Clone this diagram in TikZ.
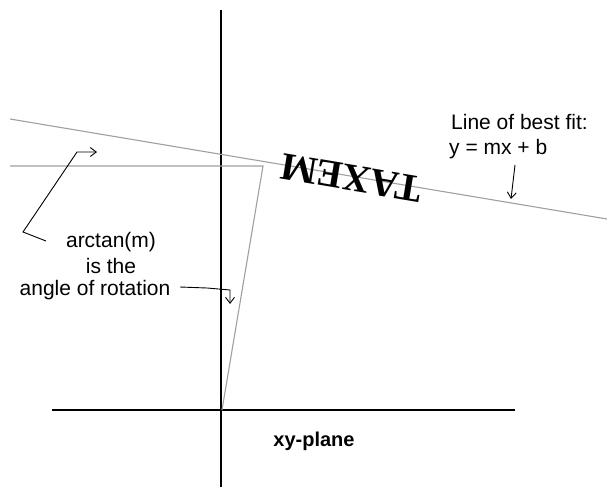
\documentclass[tikz,border=0pt]{standalone}
\usepackage{fontspec}
\setmainfont{Liberation Sans}
\newfontfamily\serifbold{Liberation Serif}
\usetikzlibrary{arrows.meta}
\definecolor{linegray}{RGB}{160,160,160}
\tikzset{
  axis/.style={line width=2.2pt, black},
  guide/.style={line width=1.1pt, linegray},
  pointer/.style={line width=0.9pt, black, -{Straight Barb[length=6pt,width=9pt]}},
  label/.style={font=\fontsize{21}{24}\selectfont, inner sep=0pt, align=center},
}
\begin{document}
\begin{tikzpicture}[x=1pt,y=-1pt]
\useasboundingbox (0,0) rectangle (607,487);
% axes
\coordinate (ytop) at (221,10);
\coordinate (ybot) at (221,487);
\coordinate (xleft) at (52,410);
\coordinate (xright) at (515,410);
\draw[axis] (ytop) -- (ybot);
\draw[axis] (xleft) -- (xright);
% gray lines
\coordinate (fitL) at (10,119);
\coordinate (fitR) at (607,219);
\coordinate (horL) at (10,166);
\coordinate (corner) at (263,166);
\coordinate (origin) at (222,410);
\draw[guide] (fitL) -- (fitR);
\draw[guide] (horL) -- (corner) -- (origin);
% rotated word
\node[inner sep=0pt, rotate=170.5, font=\serifbold\bfseries\fontsize{39}{41}\selectfont] (word) at (351,178) {TAXEM};
% labels
\node[label] (arctan) at (111,242) {arctan(m)};
\node[label] (isthe) at (111,266) {is the};
\node[label] (angle) at (95,290) {angle of rotation};
\node[label, anchor=west] (fit1) at (451,122) {Line of best fit:};
\node[label, anchor=west] (fit2) at (449,149) {y = mx + b};
\node[label, font=\bfseries\fontsize{20}{23}\selectfont] (plane) at (314,441) {xy-plane};
% pointers
\coordinate (p1a) at (46,241);
\coordinate (p1b) at (23,232);
\coordinate (p1c) at (77,152);
\coordinate (p1d) at (97,152);
\draw[pointer] (p1a) -- (p1b) -- (p1c) -- (p1d);
\coordinate (p2a) at (180,287);
\coordinate (p2b) at (207,288);
\coordinate (p2c) at (230,290);
\coordinate (p2d) at (230,304);
\draw[pointer] (p2a) -- (p2b) -- (p2c) -- (p2d);
\coordinate (p3a) at (515,165);
\coordinate (p3b) at (511,199);
\draw[pointer] (p3a) -- (p3b);
\end{tikzpicture}
\end{document}
